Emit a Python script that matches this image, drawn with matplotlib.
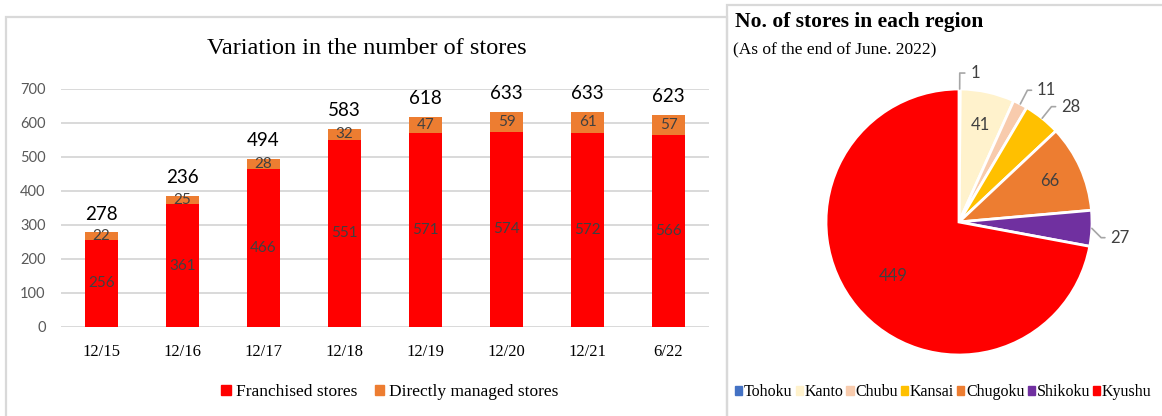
import numpy as np
import matplotlib
matplotlib.use("Agg")
import matplotlib.pyplot as plt
from matplotlib.patches import Rectangle, Patch

# bar chart data
periods = ["12/15", "12/16", "12/17", "12/18", "12/19", "12/20", "12/21", "6/22"]
franchised = [256, 361, 466, 551, 571, 574, 572, 566]
direct = [22, 25, 28, 32, 47, 59, 61, 57]
total_labels = ["278", "236", "494", "583", "618", "633", "633", "623"]

# pie data
regions = ["Tohoku", "Kanto", "Chubu", "Kansai", "Chugoku", "Shikoku", "Kyushu"]
region_stores = [1, 41, 11, 28, 66, 27, 449]
region_colors = ["#4472C4", "#FFF2CC", "#F8CBAD", "#FFC000", "#ED7D31", "#7030A0", "#FF0000"]
outside = ["Tohoku", "Chubu", "Kansai", "Shikoku"]

W, H = 1162, 416
SANS = "Lato"
SERIF = "Liberation Serif"

fig = plt.figure(figsize=(W / 100, H / 100), dpi=100)

def px(x, y, w, h):
    # pixel box (top-left origin) -> figure fraction
    return [x / W, 1 - (y + h) / H, w / W, h / H]

# panel borders
fig.patches.append(Rectangle((6 / W, -0.1), (727 - 6) / W, 1.1 - 17 / H, transform=fig.transFigure,
                             fill=False, edgecolor="#D9D9D9", linewidth=1.6))
fig.patches.append(Rectangle((727 / W, -0.1), 1.0, 1.1 - 5 / H, transform=fig.transFigure,
                             fill=False, edgecolor="#D9D9D9", linewidth=1.6))

# ---- bar chart ----
ax = fig.add_axes(px(61, 89, 648, 238))
x = np.arange(len(periods))
bw = 0.4
ax.bar(x, franchised, bw, color="#FF0000", zorder=3)
ax.bar(x, direct, bw, bottom=franchised, color="#ED7D31", zorder=3)
ax.set_xlim(-0.5, len(periods) - 0.5)
ax.set_ylim(0, 700)
ax.set_yticks(range(0, 701, 100))
ax.grid(axis="y", color="#D9D9D9", linewidth=1.4, zorder=0)
for s in ax.spines.values():
    s.set_visible(False)
ax.tick_params(length=0)
ax.tick_params(axis="y", pad=11, labelcolor="#595959", labelsize=10.5)
ax.tick_params(axis="x", pad=12)
ax.set_xticks(x)
ax.set_xticklabels(periods, family=SERIF, fontsize=12)
for lab in ax.get_yticklabels():
    lab.set_family(SANS)

for i in range(len(periods)):
    ax.text(x[i], franchised[i] / 2, str(franchised[i]), ha="center", va="center",
            family=SANS, fontsize=11, color="#404040", zorder=4)
    ax.text(x[i], franchised[i] + direct[i] / 2, str(direct[i]), ha="center", va="center",
            family=SANS, fontsize=11, color="#404040", zorder=4)
    ax.annotate(total_labels[i], (x[i], franchised[i] + direct[i]), xytext=(0, 7),
                textcoords="offset points", ha="center", va="bottom",
                family=SANS, fontsize=13.5, color="black")

fig.text(367 / W, 1 - 48 / H, "Variation in the number of stores", ha="center", va="center",
         family=SERIF, fontsize=17.5)
fig.legend([Patch(color="#FF0000"), Patch(color="#ED7D31")],
           ["Franchised stores", "Directly managed stores"],
           loc="center", bbox_to_anchor=(390 / W, 1 - 392 / H), ncol=2, frameon=False,
           prop={"family": SERIF, "size": 12.5}, handlelength=0.55, handleheight=0.55,
           handletextpad=0.3, columnspacing=1.0)

# ---- pie chart ----
pa = fig.add_axes(px(959 - 133, 222 - 133, 266, 266))
wedges, _ = pa.pie(region_stores, colors=region_colors, startangle=90, counterclock=False,
                   wedgeprops={"edgecolor": "white", "linewidth": 2})
pa.set_xlim(-1, 1)
pa.set_ylim(-1, 1)
pa.set_aspect("equal")
pa.axis("off")

for w, name, val in zip(wedges, regions, region_stores):
    ang = np.deg2rad((w.theta1 + w.theta2) / 2)
    c, s = np.cos(ang), np.sin(ang)
    if name in outside:
        if s > 0.3:
            tx, ty = 1.1 * c + 0.08, 1.15 * s - 0.03
            angle_b = np.rad2deg(ang)
        else:
            tx, ty = 1.05 * c + 0.09, s - 0.07
            angle_b = -45
        pa.annotate(str(val), (c, s), xytext=(tx, ty), ha="left", va="center",
                    family=SANS, fontsize=12, color="#404040", annotation_clip=False,
                    arrowprops=dict(arrowstyle="-", color="#A6A6A6", lw=1.2,
                                    shrinkA=2, shrinkB=0,
                                    connectionstyle=f"angle,angleA=0,angleB={angle_b:.1f},rad=0"))
    else:
        r = 0.75 if val < 100 else 0.64
        pa.text(r * c, r * s, str(val), ha="center", va="center",
                family=SANS, fontsize=12, color="#404040")

fig.text(735 / W, 1 - 22 / H, "No. of stores in each region", ha="left", va="center",
         family=SERIF, fontsize=15.5, fontweight="bold")
fig.text(733 / W, 1 - 49 / H, "(As of the end of June. 2022)", ha="left", va="center",
         family=SERIF, fontsize=12.5)

fig.legend([Patch(color=c) for c in region_colors], regions,
           loc="center left", bbox_to_anchor=(735 / W, 1 - 392 / H), ncol=7, frameon=False,
           prop={"family": SERIF, "size": 11.5}, handlelength=0.45, handleheight=0.45,
           handletextpad=0.1, columnspacing=0.2, borderpad=0, borderaxespad=0)

fig.savefig("out.png", dpi=100)
